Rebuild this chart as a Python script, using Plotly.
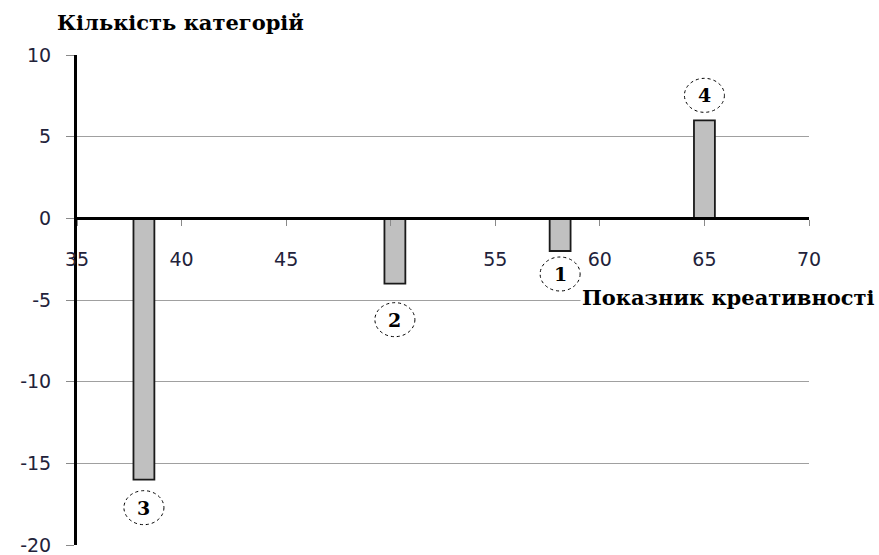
import plotly.graph_objects as go

# Data
creativity = [38.2, 50.2, 58.1, 65.0]
counts = [-16, -4, -2, 6]
group_labels = ["3", "2", "1", "4"]
x_ticks = [35, 40, 45, 50, 55, 60, 65, 70]
x_tick_labels = ["35", "40", "45", "", "55", "60", "65", "70"]  # "50" hidden behind bar in original
y_ticks = [-20, -15, -10, -5, 0, 5, 10]
y_tick_labels = ["-20", "-15", "-10", "-5", "0", "5", "10"]

# label placement offsets (px from bar end)
label_offsets = [28, 36, 23, 25]

fig = go.Figure()
fig.add_trace(go.Bar(
    x=creativity, y=counts, width=1.0,
    marker=dict(color="#c0c0c0", line=dict(color="#1a1a1a", width=1.8)),
    hoverinfo="x+y", showlegend=False,
))

shapes = []
annotations = []
for xv, yv, lab, off in zip(creativity, counts, group_labels, label_offsets):
    d = off if yv > 0 else -off
    shapes.append(dict(
        type="circle", xref="x", yref="y", xsizemode="pixel", ysizemode="pixel",
        xanchor=xv, yanchor=yv, x0=-20, x1=20, y0=d - 17, y1=d + 17,
        line=dict(color="black", width=1, dash="dot"), fillcolor="white", layer="above",
    ))
    annotations.append(dict(
        x=xv, y=yv, xref="x", yref="y", text="<b>%s</b>" % lab, showarrow=False,
        yshift=d, font=dict(family="DejaVu Serif", size=19, color="black"),
    ))

annotations.append(dict(
    xref="paper", yref="paper", x=-0.03, y=1.067, xanchor="left", yanchor="middle",
    text="<b>Кількість категорій</b>", showarrow=False,
    font=dict(family="DejaVu Serif", size=21, color="black"),
))
annotations.append(dict(
    xref="paper", yref="paper", x=1.093, y=0.506, xanchor="right", yanchor="middle",
    text="<b>Показник креативності</b>", showarrow=False, bgcolor="white",
    font=dict(family="DejaVu Serif", size=21, color="black"),
))

fig.update_layout(
    width=879, height=555,
    margin=dict(l=77, r=70, t=55, b=10, autoexpand=False),
    plot_bgcolor="white", paper_bgcolor="white",
    shapes=shapes, annotations=annotations,
    font=dict(family="DejaVu Sans", size=19, color="#22223a"),
    xaxis=dict(
        range=[35, 70], tickvals=x_ticks, ticktext=x_tick_labels,
        anchor="free", position=2/3, automargin=False, ticklabeloverflow="allow",
        showline=True, linecolor="black", linewidth=3,
        ticks="outside", ticklen=6, tickcolor="#8a8a8a", tickwidth=1,
        ticklabelstandoff=17, showgrid=False, zeroline=False,
    ),
    yaxis=dict(
        range=[-20, 10], tickvals=y_ticks, ticktext=y_tick_labels, automargin=False,
        ticklabeloverflow="allow",
        showline=True, linecolor="black", linewidth=3,
        ticks="outside", ticklen=8, tickcolor="#8a8a8a", tickwidth=1,
        ticklabelstandoff=11,
        showgrid=True, gridcolor="#a0a0a0", gridwidth=1, zeroline=False,
    ),
)

fig.write_html(
    "out.html",
    config={"displayModeBar": False},
    post_script="document.body.style.margin='0';document.body.style.overflow='hidden';",
)
